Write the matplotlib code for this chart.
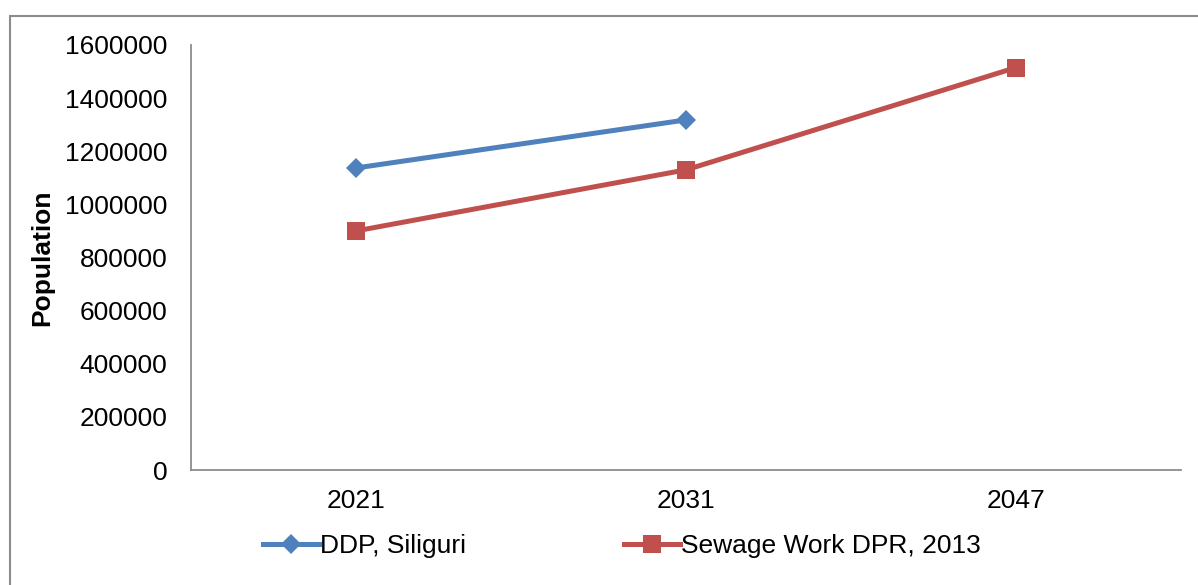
import matplotlib
matplotlib.use("Agg")
import matplotlib.pyplot as plt
from matplotlib.lines import Line2D
from matplotlib.patches import Rectangle

YEARS = ["2021", "2031", "2047"]
DDP = [1137000, 1318000]                     # DDP, Siliguri (2021, 2031)
SEWAGE = [900000, 1130000, 1515000]          # Sewage Work DPR, 2013
BLUE, RED = "#4F81BD", "#C0504D"

plt.rcParams["font.family"] = ["Liberation Sans", "DejaVu Sans"]
FS = 19

fig = plt.figure(figsize=(11.98, 5.85), dpi=100)
ax = fig.add_axes([191 / 1198, 1 - 470 / 585, (1181 - 191) / 1198, (470 - 45) / 585])

x = list(range(len(YEARS)))
ax.plot(x[:len(DDP)], DDP, color=BLUE, lw=3.6, marker="D", ms=10.5,
        markeredgewidth=0, solid_capstyle="round")
ax.plot(x, SEWAGE, color=RED, lw=3.6, marker="s", ms=12.5,
        markeredgewidth=0, solid_capstyle="round")

ax.set_xlim(-0.5, len(YEARS) - 0.5)
ax.set_ylim(0, 1600000)
ax.set_yticks(range(0, 1600001, 200000))
ax.set_yticklabels([str(v) for v in range(0, 1600001, 200000)])
ax.set_xticks(x)
ax.set_xticklabels(YEARS)
ax.tick_params(length=0, labelsize=FS, colors="black")
ax.tick_params(axis="y", pad=17)
ax.tick_params(axis="x", pad=14)
for s in ("top", "right"):
    ax.spines[s].set_visible(False)
for s in ("left", "bottom"):
    ax.spines[s].set_color("#8c8c8c")
    ax.spines[s].set_linewidth(1.3)

fig.text(42 / 1198, 1 - 258 / 585, "Population", rotation=90, fontsize=FS,
         fontweight="bold", ha="center", va="center")

handles = [
    Line2D([], [], color=BLUE, lw=3.6, marker="D", ms=10.5, markeredgewidth=0),
    Line2D([], [], color=RED, lw=3.6, marker="s", ms=12.5, markeredgewidth=0),
]
fig.legend(handles, ["DDP, Siliguri", "Sewage Work DPR, 2013"],
           loc="center", bbox_to_anchor=(622 / 1198, 1 - 546 / 585), ncol=2,
           frameon=False, fontsize=FS, handlelength=2.1, handletextpad=0.05,
           columnspacing=6.0, borderpad=0)

# chart area outline (runs off the right and bottom edges)
fig.patches.append(Rectangle((10 / 1198, -0.05), 1.2, 1 - 15.5 / 585 + 0.05,
                             transform=fig.transFigure, fill=False,
                             edgecolor="#8c8c8c", lw=1.5))

fig.savefig("out.png", dpi=100, facecolor="white")
